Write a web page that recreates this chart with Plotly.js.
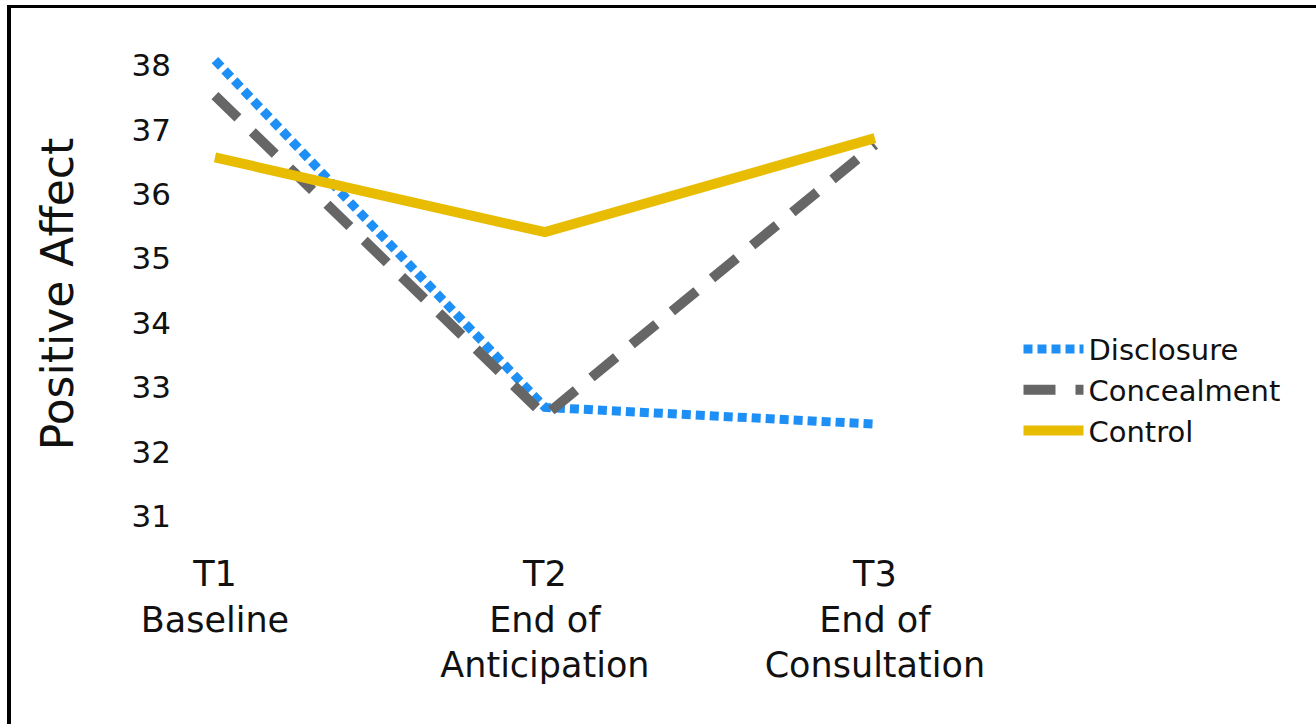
<!DOCTYPE html>
<html>
<head>
<meta charset="utf-8">
<script src="https://cdn.plot.ly/plotly-3.0.1.min.js"></script>
<style>
  html, body { margin: 0; padding: 0; background: #ffffff; overflow: hidden; }
  #chart { width: 1316px; height: 724px; }
  #frame {
    position: absolute; left: 7px; top: 5px; width: 1400px; height: 800px;
    border-left: 4px solid #000; border-top: 3px solid #000; pointer-events: none;
  }
</style>
</head>
<body>
<div id="chart"></div>
<div id="frame"></div>
<script>
// Measurement occasions (multi-line tick labels)
const timepoints = ["T1<br>Baseline", "T2<br>End of<br>Anticipation", "T3<br>End of<br>Consultation"];

// Mean positive affect per condition
const disclosure  = [38.08, 32.69, 32.43];
const concealment = [37.53, 32.56, 36.77];
const control     = [36.57, 35.41, 36.87];

const yTicks = [31, 32, 33, 34, 35, 36, 37, 38];

const FONT = "DejaVu Sans, sans-serif";

const traces = [
  { x: [0, 1, 2], y: disclosure, name: "Disclosure", mode: "lines",
    line: { color: "#1E90F5", width: 9, dash: "9px,5px" } },
  { x: [0, 1, 2], y: concealment, name: "Concealment", mode: "lines",
    line: { color: "#666666", width: 10, dash: "32px,20px" } },
  { x: [0, 1, 2], y: control, name: "Control", mode: "lines",
    line: { color: "#E8BC00", width: 10 } }
];

const layout = {
  width: 1316, height: 724,
  paper_bgcolor: "#ffffff", plot_bgcolor: "#ffffff",
  margin: { l: 180, r: 356, t: 46, b: 182 },
  font: { family: FONT, color: "#111111" },
  showlegend: true,
  legend: {
    x: 1.075, xanchor: "left", y: 0.306, yanchor: "middle",
    font: { family: FONT, size: 29, color: "#111111" },
    bgcolor: "rgba(0,0,0,0)", itemwidth: 60
  },
  xaxis: {
    range: [-0.106, 2.258],
    tickmode: "array", tickvals: [0, 1, 2], ticktext: timepoints,
    tickfont: { family: FONT, size: 35, color: "#111111" },
    showgrid: false, zeroline: false, showline: false, ticks: "",
    ticklabelstandoff: 8, fixedrange: true
  },
  yaxis: {
    range: [30.6, 38.3],
    tickmode: "array", tickvals: yTicks,
    tickfont: { family: FONT, size: 31, color: "#111111" },
    showgrid: false, zeroline: false, showline: false, ticks: "",
    ticklabelstandoff: 8,
    title: { text: "Positive Affect", font: { family: FONT, size: 44, color: "#111111" }, standoff: 44 },
    fixedrange: true
  }
};

Plotly.newPlot("chart", traces, layout, { displayModeBar: false, staticPlot: true });
</script>
</body>
</html>
